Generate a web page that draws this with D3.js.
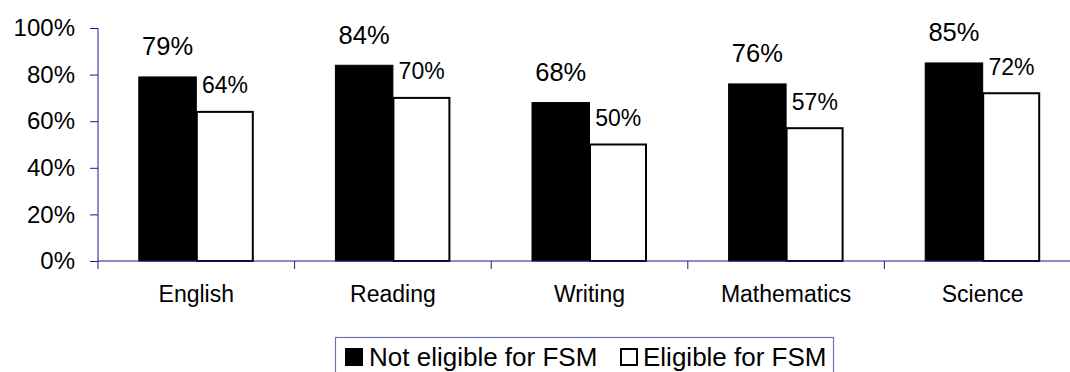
<!DOCTYPE html>
<html>
<head>
<meta charset="utf-8">
<script src="https://cdn.jsdelivr.net/npm/d3@7"></script>
<style>
  html, body { margin: 0; padding: 0; background: #fff; }
  svg { display: block; font-family: "Liberation Sans", Arial, sans-serif; }
</style>
</head>
<body>
<svg id="chart" width="1070" height="372"></svg>
<script>
// Subjects and percentage of pupils achieving the expected level
const subjects = ["English", "Reading", "Writing", "Mathematics", "Science"];
const seriesNames = ["Not eligible for FSM", "Eligible for FSM"];
const notEligible = [79, 84, 68, 76, 85];
const eligible = [64, 70, 50, 57, 72];
const yTicks = [0, 20, 40, 60, 80, 100];

const axisColor = "#1a1a8c";
const svg = d3.select("#chart");

const x = d3.scaleBand().domain(subjects).range([98, 1081]);
const groupW = 115;
const xs = d3.scaleBand().domain(seriesNames).range([0, groupW]);
const y = d3.scaleLinear().domain([0, 100]).range([261, 28]);

const rows = subjects.map((s, i) => ({ subject: s, values: [notEligible[i], eligible[i]] }));

// Bars
const groups = svg.append("g").selectAll("g")
  .data(rows).join("g")
  .attr("transform", d => `translate(${x(d.subject) + (x.bandwidth() - groupW) / 2},0)`);

groups.selectAll("rect")
  .data(d => d.values.map((v, k) => ({ name: seriesNames[k], v, k })))
  .join("rect")
  .attr("x", d => xs(d.name) + (d.k === 1 ? 0.5 : 0))
  .attr("y", d => y(d.v))
  .attr("width", d => xs.bandwidth() - (d.k === 1 ? 1.5 : 0))
  .attr("height", d => y(0) - y(d.v))
  .attr("fill", d => d.k === 0 ? "#000" : "#fff")
  .attr("stroke", "#000")
  .attr("stroke-width", d => d.k === 0 ? 1 : 2);

// Value labels
groups.selectAll("text")
  .data(d => d.values.map((v, k) => ({ name: seriesNames[k], v, k })))
  .join("text")
  .attr("x", d => xs(d.name) + xs.bandwidth() / 2)
  .attr("y", d => y(d.v) - (d.k === 0 ? 21.5 : 18.5))
  .attr("text-anchor", "middle")
  .attr("font-size", d => d.k === 0 ? 25.5 : 23)
  .attr("fill", "#000")
  .text(d => d.v + "%");

// Y axis
const yAxis = d3.axisLeft(y).tickValues(yTicks).tickSize(8).tickPadding(15)
  .tickFormat(d => d + "%");
const gy = svg.append("g").attr("transform", "translate(98,0)").call(yAxis);
gy.select(".domain").attr("stroke", axisColor).attr("d", `M0,${y(100)}V${y(0)}`);
gy.selectAll(".tick line").attr("stroke", axisColor);
gy.selectAll(".tick text").attr("font-size", 24).attr("fill", "#000")
  .attr("font-family", "Liberation Sans, Arial, sans-serif");

// X axis: baseline with ticks at category boundaries
const gx = svg.append("g");
gx.append("line")
  .attr("x1", 98).attr("x2", 1081)
  .attr("y1", y(0)).attr("y2", y(0))
  .attr("stroke", axisColor);
gx.selectAll("line.tk")
  .data(subjects.concat(["end"]))
  .join("line").attr("class", "tk")
  .attr("x1", (d, i) => 98 + i * x.bandwidth())
  .attr("x2", (d, i) => 98 + i * x.bandwidth())
  .attr("y1", y(0)).attr("y2", y(0) + 8)
  .attr("stroke", axisColor);
gx.selectAll("text")
  .data(subjects).join("text")
  .attr("x", d => x(d) + x.bandwidth() / 2)
  .attr("y", 302)
  .attr("text-anchor", "middle")
  .attr("font-size", 23)
  .attr("fill", "#000")
  .text(d => d);

// Legend
const legend = svg.append("g");
legend.append("rect")
  .attr("x", 335.5).attr("y", 337.5)
  .attr("width", 498).attr("height", 50)
  .attr("fill", "#fff").attr("stroke", "#7070b8").attr("stroke-width", 1.2);
const legendItems = [
  { name: seriesNames[0], sx: 345, tx: 369, fill: "#000" },
  { name: seriesNames[1], sx: 620, tx: 643, fill: "#fff" }
];
legendItems.forEach(it => {
  legend.append("rect")
    .attr("x", it.sx + 1).attr("y", 349)
    .attr("width", 16).attr("height", 16)
    .attr("fill", it.fill).attr("stroke", "#000").attr("stroke-width", 2);
  legend.append("text")
    .attr("x", it.tx).attr("y", 366)
    .attr("font-size", 26).attr("fill", "#000")
    .text(it.name);
});
</script>
</body>
</html>
